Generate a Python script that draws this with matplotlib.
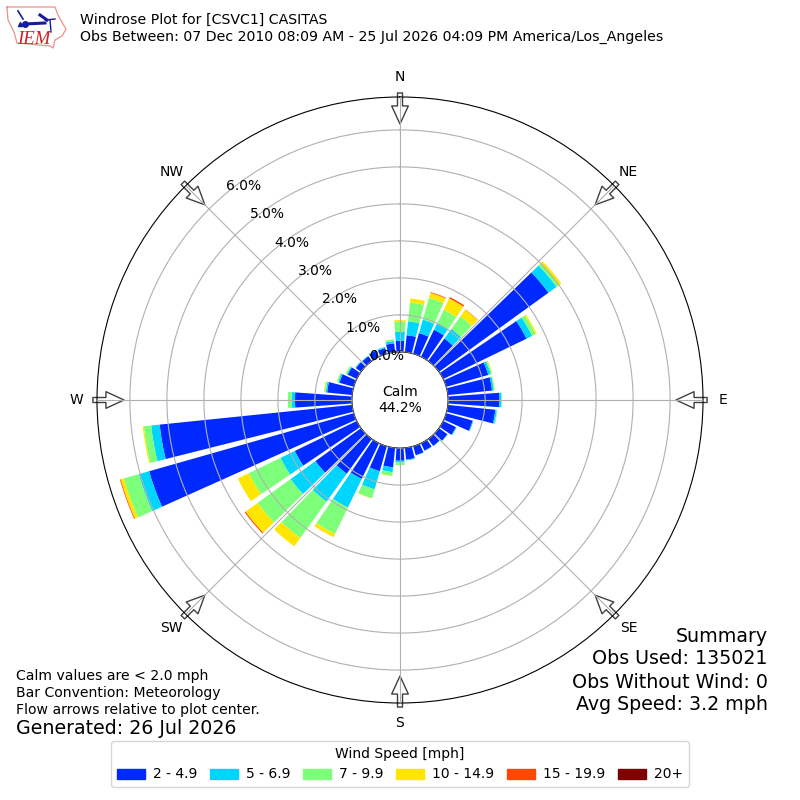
import numpy as np
import matplotlib
matplotlib.use("Agg")
import matplotlib.pyplot as plt
from matplotlib.patches import Rectangle

# percent of obs per direction bin, 0, 10, ... 350 degrees
directions = list(range(0, 360, 10))
speed_2_5 = [0.30, 0.46, 0.58, 0.81, 0.75, 3.65, 2.50, 1.18, 1.20, 1.39, 1.29, 0.74,
             0.38, 0.28, 0.23, 0.22, 0.25, 0.32, 0.34, 0.53, 0.70, 1.07, 1.16, 1.52,
             1.86, 5.75, 5.23, 1.54, 0.68, 0.40, 0.27, 0.17, 0.16, 0.19, 0.16, 0.24]
speed_5_7 = [0.24, 0.38, 0.38, 0.19, 0.32, 0.27, 0.17, 0.07, 0.05, 0.05, 0.04, 0.02,
             0.02, 0.01, 0.01, 0.01, 0.01, 0.02, 0.05, 0.13, 0.51, 0.86, 0.93, 0.83,
             0.43, 0.29, 0.23, 0.09, 0.04, 0.04, 0.03, 0.02, 0.01, 0.01, 0.03, 0.06]
speed_7_10 = [0.28, 0.51, 0.61, 0.41, 0.42, 0.08, 0.10, 0.03, 0.02, 0.02, 0.02, 0.00,
              0.00, 0.00, 0.00, 0.00, 0.00, 0.00, 0.07, 0.10, 0.25, 0.79, 1.21, 1.10,
              0.95, 0.42, 0.20, 0.10, 0.03, 0.03, 0.03, 0.01, 0.01, 0.01, 0.01, 0.05]
speed_10_15 = [0.04, 0.11, 0.14, 0.34, 0.22, 0.08, 0.04, 0.02, 0.01, 0.00, 0.00, 0.00,
               0.00, 0.00, 0.00, 0.00, 0.00, 0.00, 0.00, 0.01, 0.01, 0.10, 0.28, 0.40,
               0.33, 0.09, 0.03, 0.00, 0.02, 0.01, 0.01, 0.00, 0.00, 0.00, 0.00, 0.00]
speed_15_20 = [0.00, 0.00, 0.02, 0.04, 0.01, 0.00, 0.00, 0.00, 0.00, 0.00, 0.00, 0.00,
               0.00, 0.00, 0.00, 0.00, 0.00, 0.00, 0.00, 0.00, 0.00, 0.00, 0.00, 0.03,
               0.00, 0.02, 0.00, 0.00, 0.00, 0.00, 0.00, 0.00, 0.00, 0.00, 0.00, 0.00]
speed_20 = [0.0] * 36
bins = [speed_2_5, speed_5_7, speed_7_10, speed_10_15, speed_15_20, speed_20]
bin_labels = ['2 - 4.9', '5 - 6.9', '7 - 9.9', '10 - 14.9', '15 - 19.9', '20+']
bin_colors = ['#0029ff', '#00d5ff', '#7dff7a', '#ffe600', '#ff4700', '#7f0000']
compass = ['N', 'NE', 'E', 'SE', 'S', 'SW', 'W', 'NW']
summary = ['Summary', 'Obs Used: 135021', 'Obs Without Wind: 0', 'Avg Speed: 3.2 mph']
notes = ['Calm values are < 2.0 mph', 'Bar Convention: Meteorology',
         'Flow arrows relative to plot center.']


def px(x, y):
    return x / 800.0, 1 - y / 800.0


fig = plt.figure(figsize=(8, 8), dpi=100)
ax = fig.add_axes([97 / 800, 97 / 800, 606 / 800, 606 / 800], projection='polar')
ax.set_theta_zero_location('N')
ax.set_theta_direction(-1)

theta = np.radians(directions)
bottom = np.zeros(36)
for vals, color in zip(bins, bin_colors):
    ax.bar(theta, vals, width=np.radians(8.3), bottom=bottom, color=color, linewidth=0)
    bottom = bottom + np.array(vals)

ax.set_ylim(0, 6.89)
ax.set_rorigin(-1.3)
ax.set_axisbelow(False)
ax.set_rticks(range(0, 7))
ax.set_yticklabels(['%.1f%%' % v for v in range(0, 7)], fontsize=10)
ax.set_rlabel_position(320)
ax.set_thetagrids(range(0, 360, 45), compass, fontsize=10)
ax.tick_params(axis='x', pad=4)
ax.grid(True, color='#b0b0b0', linewidth=0.8)

# flow arrows on the edge, pointing at the center
for angle in range(0, 360, 45):
    ax.annotate('', xy=(np.radians(angle), 6.16), xytext=(np.radians(angle), 7.0),
                annotation_clip=False, zorder=2.2,
                arrowprops=dict(facecolor='white', edgecolor='#404040', width=3.6,
                                headwidth=12, headlength=13, linewidth=1))

ax.text(0.5, 0.5, 'Calm\n44.2%', transform=ax.transAxes, ha='center', va='center',
        fontsize=10, linespacing=1.2)

# header
fig.text(*px(80, 20), 'Windrose Plot for [CSVC1] CASITAS', fontsize=10.13, va='center')
fig.text(*px(80, 37), 'Obs Between: 07 Dec 2010 08:09 AM - 25 Jul 2026 04:09 PM America/Los_Angeles',
         fontsize=10.13, va='center')

# logo, drawn on a pixel axes
logo = fig.add_axes([0, 0, 1, 1], facecolor='none')
logo.set_xlim(0, 800)
logo.set_ylim(800, 0)
logo.axis('off')
outline_x = [7, 55, 58, 63, 66, 62, 55, 53, 50, 17, 14, 8, 7]
outline_y = [7, 7, 15, 24, 29, 36, 40, 48, 46, 43, 32, 20, 7]
logo.plot(outline_x, outline_y, color='#ea9090', lw=0.9)
logo.plot([25, 45], [24, 23], color='#1a1aa0', lw=2.2)
logo.plot([18, 23], [11, 19], color='#1a1aa0', lw=1.2)
logo.plot([40, 47], [15, 20], color='#1a1aa0', lw=2.2)
logo.plot([45, 55], [20, 19], color='#1a1aa0', lw=1)
logo.plot([50, 51], [20, 32], color='#1a1aa0', lw=1)
logo.plot([25], [24], 'o', color='#1a1aa0', ms=4)
logo.plot([20], [24], '^', color='#1a1aa0', ms=3)
logo.text(17, 44, 'IEM', color='#d02020', fontsize=13.5, family='Liberation Serif', style='italic')

# notes and summary
for i, line in enumerate(summary):
    fig.text(*px(768, 636 + 23 * i), line, fontsize=13.7, ha='right', va='center')
for i, line in enumerate(notes):
    fig.text(*px(16, 676 + 17 * i), line, fontsize=10.1, va='center')
fig.text(*px(16, 729), 'Generated: 26 Jul 2026', fontsize=13.7, va='center')

handles = [Rectangle((0, 0), 1, 1, color=c) for c in bin_colors]
fig.legend(handles, bin_labels, title='Wind Speed [mph]', ncol=6, fontsize=10,
           title_fontsize=10, loc='lower center', bbox_to_anchor=(0.5, 0.0075),
           handlelength=2, handletextpad=0.6, columnspacing=0.9)

fig.savefig('out.png', dpi=100)
